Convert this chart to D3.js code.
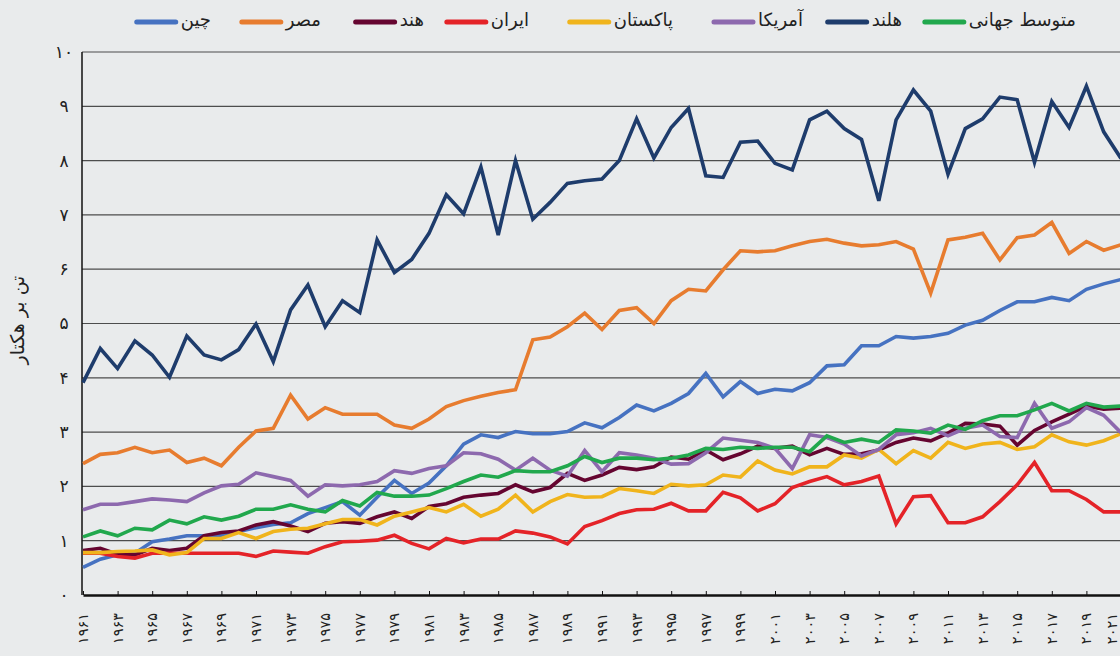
<!DOCTYPE html>
<html>
<head>
<meta charset="utf-8">
<script src="https://cdn.jsdelivr.net/npm/d3@7"></script>
<style>
  html, body { margin: 0; padding: 0; background: #e9ebec; }
  svg { display: block; font-family: "DejaVu Sans", sans-serif; }
</style>
</head>
<body>
<svg width="1120" height="656"></svg>
<script>
const years = [1961,1962,1963,1964,1965,1966,1967,1968,1969,1970,
  1971,1972,1973,1974,1975,1976,1977,1978,1979,1980,
  1981,1982,1983,1984,1985,1986,1987,1988,1989,1990,
  1991,1992,1993,1994,1995,1996,1997,1998,1999,2000,
  2001,2002,2003,2004,2005,2006,2007,2008,2009,2010,
  2011,2012,2013,2014,2015,2016,2017,2018,2019,2020,2021];

const china = [0.51,0.66,0.74,0.77,0.98,1.03,1.09,1.09,1.10,1.17, 1.24,1.30,1.33,1.50,1.61,1.72,1.47,1.80,2.11,1.87,
  2.06,2.38,2.78,2.95,2.90,3.01,2.97,2.97,3.01,3.17, 3.08,3.27,3.50,3.39,3.53,3.71,4.08,3.65,3.93,3.71,
  3.79,3.76,3.91,4.22,4.24,4.59,4.59,4.76,4.73,4.76, 4.82,4.97,5.06,5.24,5.40,5.40,5.48,5.42,5.63,5.73, 5.81];
const egypt = [2.42,2.59,2.62,2.72,2.62,2.67,2.44,2.52,2.38,2.72, 3.02,3.07,3.68,3.24,3.45,3.33,3.33,3.33,3.13,3.07,
  3.24,3.47,3.58,3.66,3.73,3.78,4.70,4.75,4.94,5.19, 4.89,5.24,5.29,5.00,5.42,5.63,5.60,5.99,6.34,6.32,
  6.34,6.43,6.51,6.55,6.48,6.43,6.45,6.51,6.37,5.56, 6.54,6.59,6.66,6.17,6.58,6.63,6.86,6.29,6.51,6.35, 6.45];
const india = [0.82,0.86,0.75,0.74,0.86,0.82,0.86,1.09,1.15,1.18, 1.29,1.35,1.27,1.17,1.32,1.35,1.32,1.44,1.53,1.41,
  1.63,1.68,1.80,1.84,1.87,2.03,1.90,1.98,2.24,2.11, 2.21,2.35,2.31,2.36,2.54,2.50,2.67,2.49,2.60,2.74,
  2.70,2.74,2.58,2.70,2.59,2.60,2.67,2.81,2.89,2.84, 2.98,3.16,3.15,3.11,2.76,3.03,3.19,3.33,3.48,3.42, 3.44];
const iran = [0.77,0.77,0.71,0.68,0.77,0.77,0.77,0.77,0.77,0.77, 0.71,0.81,0.79,0.77,0.89,0.98,0.99,1.01,1.10,0.95,
  0.85,1.04,0.96,1.03,1.03,1.18,1.14,1.07,0.94,1.26, 1.37,1.50,1.57,1.58,1.69,1.55,1.55,1.89,1.79,1.55,
  1.68,1.98,2.09,2.18,2.03,2.09,2.19,1.31,1.81,1.83, 1.33,1.33,1.44,1.72,2.03,2.44,1.92,1.92,1.76,1.53, 1.53];
const pakistan = [0.78,0.78,0.80,0.81,0.83,0.74,0.78,1.04,1.04,1.15, 1.04,1.17,1.21,1.23,1.31,1.39,1.39,1.29,1.45,1.53,
  1.61,1.53,1.67,1.45,1.58,1.84,1.53,1.72,1.85,1.80, 1.81,1.96,1.92,1.87,2.04,2.01,2.03,2.21,2.17,2.47,
  2.30,2.23,2.36,2.36,2.58,2.52,2.68,2.42,2.66,2.52, 2.81,2.70,2.78,2.81,2.68,2.73,2.95,2.82,2.76,2.84, 2.97];
const usa = [1.57,1.67,1.67,1.72,1.77,1.75,1.72,1.88,2.01,2.04, 2.25,2.18,2.11,1.82,2.03,2.01,2.03,2.09,2.29,2.24,
  2.33,2.38,2.62,2.60,2.50,2.30,2.52,2.30,2.19,2.66, 2.27,2.62,2.58,2.52,2.41,2.42,2.62,2.89,2.85,2.81,
  2.70,2.33,2.95,2.90,2.78,2.56,2.68,2.95,2.99,3.07, 2.93,3.07,3.13,2.92,2.90,3.53,3.07,3.19,3.45,3.31, 2.99];
const netherlands = [3.91,4.54,4.17,4.68,4.42,4.01,4.77,4.42,4.33,4.52, 4.99,4.30,5.25,5.71,4.94,5.42,5.20,6.54,5.94,6.18,
  6.66,7.37,7.02,7.88,6.63,8.00,6.92,7.23,7.58,7.63, 7.66,8.00,8.77,8.05,8.61,8.96,7.72,7.69,8.34,8.36,
  7.95,7.83,8.75,8.91,8.59,8.39,7.26,8.75,9.30,8.91, 7.75,8.59,8.77,9.17,9.12,7.97,9.09,8.61,9.37,8.53, 8.04];
const world = [1.07,1.18,1.09,1.23,1.20,1.38,1.31,1.44,1.38,1.45, 1.58,1.58,1.66,1.58,1.53,1.74,1.64,1.89,1.82,1.82,
  1.84,1.96,2.09,2.21,2.17,2.29,2.27,2.27,2.38,2.55, 2.44,2.52,2.52,2.49,2.52,2.58,2.70,2.68,2.72,2.70,
  2.72,2.72,2.64,2.93,2.81,2.87,2.81,3.04,3.02,2.98, 3.13,3.05,3.21,3.30,3.30,3.41,3.53,3.39,3.53,3.46, 3.48];

const seriesNames = ["چین", "مصر", "هند", "ایران", "پاکستان", "آمریکا", "هلند", "متوسط جهانی"];
const seriesValues = [china, egypt, india, iran, pakistan, usa, netherlands, world];
const seriesColors = ["#4672c1", "#e77c2f", "#650530", "#e42328", "#f0b41c", "#8d69ae", "#1e3c6c", "#21a84d"];

const yTicks = [0, 1, 2, 3, 4, 5, 6, 7, 8, 9, 10];
const xLabelYears = years.filter(y => (y - 1961) % 2 === 0);
const yTitle = "تن بر هکتار";

const faDigits = "۰۱۲۳۴۵۶۷۸۹";
const fa = v => String(v).replace(/\d/g, d => faDigits[+d]);

const svg = d3.select("svg");

const x = d3.scaleLinear().domain([1961, 2021]).range([83, 1121]);
const y = d3.scaleLinear().domain([0, 10]).range([595, 52]);

// gridlines
svg.append("g")
  .selectAll("line")
  .data(yTicks.filter(d => d > 0))
  .join("line")
  .attr("x1", 82).attr("x2", 1120)
  .attr("y1", d => y(d)).attr("y2", d => y(d))
  .attr("stroke", "#4d4d4d")
  .attr("stroke-width", 1.2);

// y labels
svg.append("g")
  .selectAll("text")
  .data(yTicks)
  .join("text")
  .attr("x", 64)
  .attr("y", d => y(d))
  .attr("dy", "0.35em")
  .attr("text-anchor", "middle")
  .attr("font-size", 17)
  .attr("fill", "#222")
  .text(d => fa(d));

// y title
svg.append("text")
  .attr("transform", "translate(24,320) rotate(-90)")
  .attr("text-anchor", "middle")
  .attr("font-size", 19)
  .attr("fill", "#222")
  .text(yTitle);

// x axis
const xAxis = d3.axisBottom(x)
  .tickValues(xLabelYears)
  .tickSizeInner(-4)
  .tickSizeOuter(0)
  .tickFormat("");
const gx = svg.append("g").attr("transform", "translate(0,595)").call(xAxis);
gx.select(".domain").attr("stroke", "#111").attr("stroke-width", 2.5);
gx.selectAll(".tick line").attr("stroke", "#111");

svg.append("g")
  .selectAll("text")
  .data(xLabelYears)
  .join("text")
  .attr("transform", d => `translate(${Math.min(x(d), 1112)},613) rotate(-90)`)
  .attr("dy", "0.35em")
  .attr("text-anchor", "end")
  .attr("font-size", 14.5)
  .attr("fill", "#222")
  .text(d => fa(d));

// y axis line
svg.append("line")
  .attr("x1", 82).attr("x2", 82)
  .attr("y1", y(10)).attr("y2", y(0))
  .attr("stroke", "#111").attr("stroke-width", 1.5);

// series lines
const line = d3.line()
  .x((d, i) => x(years[i]))
  .y(d => y(d));

svg.append("g")
  .selectAll("path")
  .data(seriesValues)
  .join("path")
  .attr("fill", "none")
  .attr("stroke", (d, i) => seriesColors[i])
  .attr("stroke-width", 3.6)
  .attr("d", line);

// legend (right to left)
const legendX = [1076, 902, 803, 673, 529, 424, 321, 211];
const legendOrder = [7, 6, 5, 4, 3, 2, 1, 0];
const lg = svg.append("g").attr("font-size", 18);
legendOrder.forEach((si, k) => {
  const tx = legendX[k];
  const t = lg.append("text")
    .attr("x", tx).attr("y", 20)
    .attr("dy", "0.35em")
    .attr("text-anchor", "end")
    .attr("fill", "#222")
    .text(seriesNames[si]);
  const w = t.node().getComputedTextLength();
  lg.append("line")
    .attr("x1", tx - w - 44).attr("x2", tx - w - 5)
    .attr("y1", 22).attr("y2", 22)
    .attr("stroke", seriesColors[si])
    .attr("stroke-width", 5)
    .attr("stroke-linecap", "round");
});
</script>
</body>
</html>
